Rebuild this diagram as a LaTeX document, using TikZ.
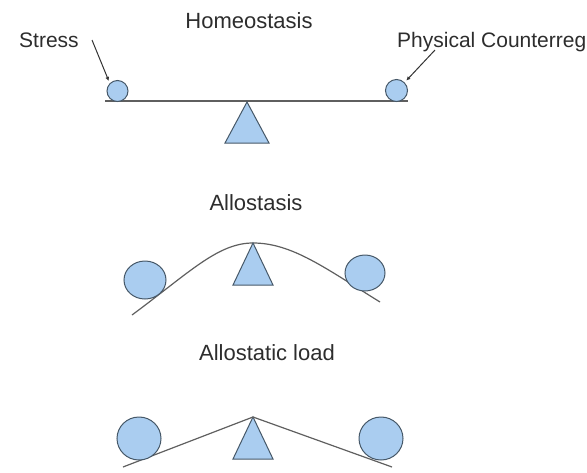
\documentclass[tikz,border=0pt]{standalone}
\usepackage{fontspec}
\setmainfont{Liberation Sans}
\usetikzlibrary{shapes.geometric,arrows.meta}
\definecolor{ballfill}{RGB}{170,205,240}
\definecolor{ballline}{RGB}{70,88,104}
\definecolor{beamline}{RGB}{95,95,95}
\definecolor{labeltext}{RGB}{45,45,45}
\begin{document}
\begin{tikzpicture}[x=1pt,y=-1pt,
  title/.style={font=\fontsize{22}{25}\selectfont, text=labeltext, inner sep=0pt, anchor=base},
  tag/.style={font=\fontsize{21}{24}\selectfont, text=labeltext, inner sep=0pt, anchor=base west},
  ball/.style={ellipse, draw=ballline, fill=ballfill, line width=1pt, inner sep=0pt},
  beam/.style={draw=beamline, line width=1.2pt},
  pivot/.style={draw=ballline, fill=ballfill, line width=1pt, line join=miter},
  pointer/.style={draw=black!80, line width=1pt, -{Latex[length=4pt,width=4pt]}, shorten >=2.5pt}
]
\useasboundingbox (0,0) rectangle (587,472);
\clip (0,0) rectangle (587,472);

% --- Homeostasis: level beam, two small balls ---
\node[title] (t1) at (249,28) {Homeostasis};
\node[tag] (stress) at (19,47) {Stress};
\node[tag] (counter) at (397,47) {Physical Counterreg};
\draw[beam] (105,101) -- (408,101);
\path[pivot] (247,102) -- (269,143) -- (225,143) -- cycle;
\node[ball, minimum width=21pt, minimum height=21pt] (s1) at (117.5,91) {};
\node[ball, minimum width=22pt, minimum height=22pt] (c1) at (396.5,90.5) {};
\coordinate (stressfrom) at (92,40);
\coordinate (counterfrom) at (435,50);
\draw[pointer] (stressfrom) -- (s1.north west);
\draw[pointer] (counterfrom) -- (c1.north east);

% --- Allostasis: curved beam ---
\node[title] (t2) at (256,210) {Allostasis};
\draw[beam] (132,315) .. controls (190,272) and (218,243) .. (253,243)
  .. controls (292,243) and (325,268) .. (380,302);
\path[pivot] (253,243) -- (273,285) -- (233,285) -- cycle;
\node[ball, minimum width=42pt, minimum height=38pt] (a1) at (145,280) {};
\node[ball, minimum width=40pt, minimum height=36pt] (a2) at (365,273) {};

% --- Allostatic load: beam bent down on both sides ---
\node[title] (t3) at (267,360) {Allostatic load};
\path[pivot] (253,417) -- (273,459) -- (233,459) -- cycle;
\draw[beam] (123,467) -- (253,417) -- (392,467);
\node[ball, minimum width=44pt, minimum height=43pt] (l1) at (139,438.5) {};
\node[ball, minimum width=44pt, minimum height=43pt] (l2) at (381,438.5) {};
\end{tikzpicture}
\end{document}
